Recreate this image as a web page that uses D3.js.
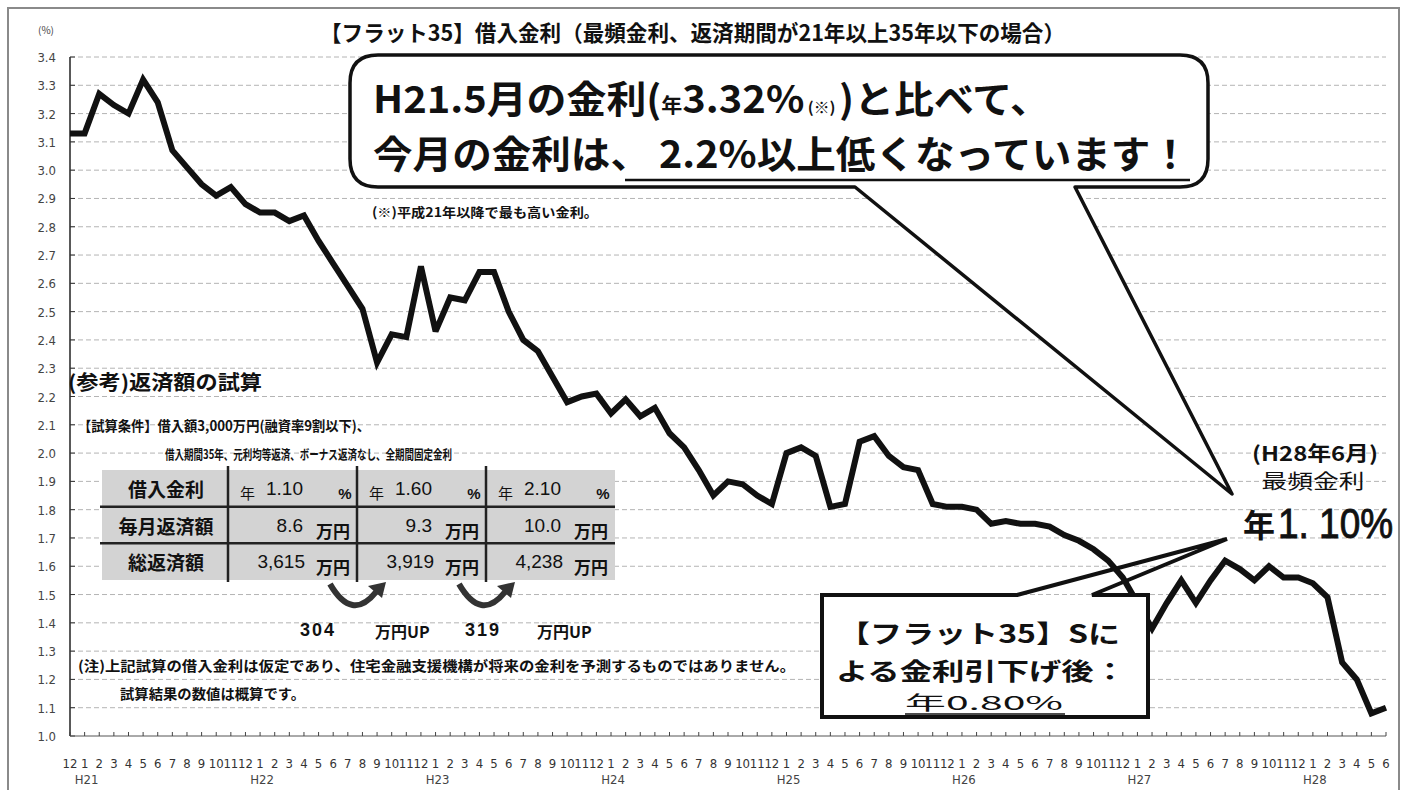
<!DOCTYPE html>
<html>
<head>
<meta charset="utf-8">
<script src="https://cdnjs.cloudflare.com/ajax/libs/d3/7.8.5/d3.min.js"></script>
<style>
body { margin:0; background:#fff; }
svg text { font-family:"Noto Sans CJK JP", sans-serif; fill:#111; }
</style>
</head>
<body>
<div class="canvas"></div>
<script>

// 最頻金利 (%), H20.12 - H28.6
var rates = [3.13,
  3.13,3.27,3.23,3.20,3.32,3.24,3.07,3.01,2.95,2.91,2.94,2.88,
  2.85,2.85,2.82,2.84,2.75,2.67,2.59,2.51,2.32,2.42,2.41,2.66,
  2.43,2.55,2.54,2.64,2.64,2.50,2.40,2.36,2.27,2.18,2.20,2.21,
  2.14,2.19,2.13,2.16,2.07,2.02,1.94,1.85,1.90,1.89,1.85,1.82,
  2.00,2.02,1.99,1.81,1.82,2.04,2.06,1.99,1.95,1.94,1.82,1.81,
  1.81,1.80,1.75,1.76,1.75,1.75,1.74,1.71,1.69,1.66,1.62,1.56,
  1.47,1.38,1.47,1.55,1.47,1.55,1.62,1.59,1.55,1.60,1.56,1.56,
  1.54,1.49,1.26,1.20,1.08,1.10];

var monthLabels = [12,
  1,2,3,4,5,6,7,8,9,10,11,12,
  1,2,3,4,5,6,7,8,9,10,11,12,
  1,2,3,4,5,6,7,8,9,10,11,12,
  1,2,3,4,5,6,7,8,9,10,11,12,
  1,2,3,4,5,6,7,8,9,10,11,12,
  1,2,3,4,5,6,7,8,9,10,11,12,
  1,2,3,4,5,6,7,8,9,10,11,12,
  1,2,3,4,5,6];

var yearLabels = ['H21','H22','H23','H24','H25','H26','H27','H28'];
var yearStart = [1,13,25,37,49,61,73,85];

var yTicks = [1.0,1.1,1.2,1.3,1.4,1.5,1.6,1.7,1.8,1.9,2.0,2.1,2.2,2.3,2.4,2.5,2.6,2.7,2.8,2.9,3.0,3.1,3.2,3.3,3.4];

var rowHeads = ['借入金利','毎月返済額','総返済額'];
var caseRates = ['1.10','1.60','2.10'];
var monthlyPay = ['8.6','9.3','10.0'];
var totalPay = ['3,615','3,919','4,238'];
var payDiff = ['304','319'];

var W = 1407, H = 790;
var narrow = '"Liberation Sans Narrow","DejaVu Sans Condensed",sans-serif';
var latin = '"Liberation Sans",Arial,sans-serif';

var svg = d3.select('.canvas').append('svg')
            .attr('width', W)
              .attr('height', H);

var x = d3.scaleLinear().domain([0, rates.length - 1]).range([70, 1386]);
var y = d3.scaleLinear().domain([1.0, 3.4]).range([736, 57]);

// outer frame
svg.append('rect')
  .attr('x', 8).attr('y', 8).attr('width', 1391).attr('height', 820)
  .attr('fill', 'none').attr('stroke', '#8a8a8a').attr('stroke-width', 2);

// grid
svg.append('g').selectAll('line')
  .data(yTicks.slice(1))
  .enter().append('line')
    .attr('x1', 70).attr('x2', 1386)
    .attr('y1', function(d){ return y(d); })
    .attr('y2', function(d){ return y(d); })
    .attr('stroke', '#b4b4b4')
    .attr('stroke-width', 1)
    .attr('stroke-dasharray', '5,3');

// y axis
svg.append('line')
  .attr('x1', 70).attr('x2', 70).attr('y1', y(3.4)).attr('y2', y(1.0))
  .attr('stroke', '#222').attr('stroke-width', 1.5);
svg.append('g').selectAll('line')
  .data(yTicks)
  .enter().append('line')
    .attr('x1', 70).attr('x2', 75)
    .attr('y1', function(d){ return y(d); })
    .attr('y2', function(d){ return y(d); })
    .attr('stroke', '#333');
svg.append('g').selectAll('text')
  .data(yTicks)
  .enter().append('text')
    .attr('x', 56)
    .attr('y', function(d){ return y(d) + 5; })
    .attr('text-anchor', 'end')
    .style('font-family', narrow)
    .style('font-size', '13px')
    .style('fill', '#444')
    .text(function(d){ return d3.format('.1f')(d); });
svg.append('text')
  .attr('x', 46).attr('y', 34)
  .attr('text-anchor', 'middle')
  .style('font-size', '10px')
  .style('fill', '#444')
  .text('(%)');

// x axis
svg.append('line')
  .attr('x1', 70).attr('x2', 1386).attr('y1', y(1.0)).attr('y2', y(1.0))
  .attr('stroke', '#555').attr('stroke-width', 1);
svg.append('g').selectAll('line')
  .data(monthLabels)
  .enter().append('line')
    .attr('x1', function(d, i){ return x(i); })
    .attr('x2', function(d, i){ return x(i); })
    .attr('y1', y(1.0)).attr('y2', y(1.0) - 4)
    .attr('stroke', '#444');
svg.append('g').selectAll('text')
  .data(monthLabels)
  .enter().append('text')
    .attr('x', function(d, i){ return x(i); })
    .attr('y', 768)
    .attr('text-anchor', 'middle')
    .style('font-family', narrow)
    .style('font-size', '13px')
    .style('fill', '#333')
    .text(function(d){ return d; });
svg.append('g').selectAll('text')
  .data(yearLabels)
  .enter().append('text')
    .attr('x', function(d, i){ return x(yearStart[i]) + 2; })
    .attr('y', 784)
    .attr('text-anchor', 'middle')
    .style('font-family', narrow)
    .style('font-size', '13px')
    .style('fill', '#444')
    .text(function(d){ return d; });

// rate line
var line = d3.line()
  .x(function(d, i){ return x(i); })
  .y(function(d){ return y(d); });
svg.append('path')
  .datum(rates)
  .attr('d', line)
  .attr('fill', 'none')
  .attr('stroke', '#111')
  .attr('stroke-width', 6)
  .attr('stroke-linejoin', 'miter')
  .attr('stroke-miterlimit', 3);

// title
svg.append('text')
  .attr('x', 320).attr('y', 41)
  .attr('textLength', 745).attr('lengthAdjust', 'spacingAndGlyphs')
  .style('font-size', '22px').style('font-weight', 'bold')
  .text('【フラット35】借入金利（最頻金利、返済期間が21年以上35年以下の場合）');

// big callout with tail
var bx0 = 350, by0 = 55, bx1 = 1208, by1 = 187, r = 28;
var tip1 = [1232, 494];
var bigPath = d3.path();
bigPath.moveTo(bx0 + r, by0);
bigPath.lineTo(bx1 - r, by0);
bigPath.quadraticCurveTo(bx1, by0, bx1, by0 + r);
bigPath.lineTo(bx1, by1 - r);
bigPath.quadraticCurveTo(bx1, by1, bx1 - r, by1);
bigPath.lineTo(1075, by1);
bigPath.lineTo(tip1[0], tip1[1]);
bigPath.lineTo(855, by1);
bigPath.lineTo(bx0 + r, by1);
bigPath.quadraticCurveTo(bx0, by1, bx0, by1 - r);
bigPath.lineTo(bx0, by0 + r);
bigPath.quadraticCurveTo(bx0, by0, bx0 + r, by0);
bigPath.closePath();
svg.append('path')
  .attr('d', bigPath.toString())
  .attr('fill', '#fff')
  .attr('stroke', '#111')
  .attr('stroke-width', 3.5)
  .attr('stroke-linejoin', 'round');

var l1 = svg.append('text')
  .attr('x', 373).attr('y', 113)
  .attr('textLength', 677).attr('lengthAdjust', 'spacingAndGlyphs')
  .style('font-size', '38px').style('font-weight', 'bold');
l1.append('tspan').text('H21.5月の金利(');
l1.append('tspan').style('font-size', '20px').text('年');
l1.append('tspan').text('3.32%');
l1.append('tspan').style('font-size', '15px').text(' (※) ');
l1.append('tspan').text(')と比べて、');

var l2 = svg.append('text')
  .attr('x', 373).attr('y', 168)
  .attr('textLength', 817).attr('lengthAdjust', 'spacingAndGlyphs')
  .style('font-size', '38px').style('font-weight', 'bold');
l2.append('tspan').text('今月の金利は、 ');
l2.append('tspan').text('2.2%以上低くなっています！');
svg.append('line')
  .attr('x1', 625).attr('x2', 1190).attr('y1', 180).attr('y2', 180)
  .attr('stroke', '#111').attr('stroke-width', 2.5);

svg.append('text')
  .attr('x', 372).attr('y', 217)
  .attr('textLength', 226).attr('lengthAdjust', 'spacingAndGlyphs')
  .style('font-size', '13px').style('font-weight', 'bold')
  .text('(※)平成21年以降で最も高い金利。');

// current rate label
svg.append('text')
  .attr('x', 1315).attr('y', 461)
  .attr('text-anchor', 'middle')
  .attr('textLength', 126).attr('lengthAdjust', 'spacingAndGlyphs')
  .style('font-size', '20px').style('font-weight', 'bold')
  .text('(H28年6月)');
svg.append('text')
  .attr('x', 1313).attr('y', 489)
  .attr('text-anchor', 'middle')
  .attr('textLength', 103).attr('lengthAdjust', 'spacingAndGlyphs')
  .style('font-size', '20px')
  .text('最頻金利');
svg.append('text')
  .attr('x', 1243).attr('y', 537)
  .style('font-size', '32px').style('font-weight', 'bold')
  .text('年');
svg.append('text')
  .attr('transform', 'translate(1278,538) scale(0.86,1)')
  .style('font-family', latin)
  .style('font-size', '43px')
  .style('stroke', '#111').style('stroke-width', 0.9)
  .text('1. 10%');

// lower box
var tip2 = [1227, 539];
svg.append('rect')
  .attr('x', 822).attr('y', 595).attr('width', 326).attr('height', 122)
  .attr('fill', '#fff');
var boxPath = d3.path();
boxPath.moveTo(1017, 595);
boxPath.lineTo(tip2[0], tip2[1]);
boxPath.lineTo(1092, 595);
boxPath.lineTo(1148, 595);
boxPath.lineTo(1148, 717);
boxPath.lineTo(822, 717);
boxPath.lineTo(822, 595);
boxPath.closePath();
svg.append('path')
  .attr('d', boxPath.toString())
  .attr('fill', 'none')
  .attr('stroke', '#111')
  .attr('stroke-width', 4)
  .attr('stroke-linejoin', 'miter');
svg.append('text')
  .attr('x', 838).attr('y', 643)
  .attr('textLength', 282).attr('lengthAdjust', 'spacingAndGlyphs')
  .style('font-size', '25px').style('font-weight', 'bold')
  .text('【フラット35】Sに');
svg.append('text')
  .attr('x', 836).attr('y', 680)
  .attr('textLength', 290).attr('lengthAdjust', 'spacingAndGlyphs')
  .style('font-size', '24px').style('font-weight', 'bold')
  .text('よる金利引下げ後：');
svg.append('text')
  .attr('x', 905).attr('y', 710)
  .attr('textLength', 158).attr('lengthAdjust', 'spacingAndGlyphs')
  .style('font-size', '19px')
  .text('年0.80%');
svg.append('line')
  .attr('x1', 905).attr('x2', 1065).attr('y1', 714).attr('y2', 714)
  .attr('stroke', '#111').attr('stroke-width', 1.5);

// reference calculation
svg.append('text')
  .attr('x', 68).attr('y', 390)
  .attr('textLength', 194).attr('lengthAdjust', 'spacingAndGlyphs')
  .style('font-size', '20px').style('font-weight', 'bold')
  .text('(参考)返済額の試算');
svg.append('text')
  .attr('x', 78).attr('y', 431)
  .attr('textLength', 292).attr('lengthAdjust', 'spacingAndGlyphs')
  .style('font-size', '14px').style('font-weight', 'bold')
  .text('【試算条件】借入額3,000万円(融資率9割以下)、');
svg.append('text')
  .attr('x', 165).attr('y', 459)
  .attr('textLength', 287).attr('lengthAdjust', 'spacingAndGlyphs')
  .style('font-size', '13px').style('font-weight', 'bold')
  .text('借入期間35年、元利均等返済、ボーナス返済なし、全期間固定金利');

var col = d3.scaleBand().domain([0, 1, 2]).range([228, 615]);
var row = d3.scaleBand().domain(rowHeads).range([470, 580]);

var table = svg.append('g');
table.append('rect')
  .attr('x', 102).attr('y', 470).attr('width', 513).attr('height', 110)
  .attr('fill', '#d3d3d3');
table.selectAll('.rowline')
  .data(rowHeads.slice(1))
  .enter().append('line')
    .attr('x1', 100).attr('x2', 615)
    .attr('y1', function(d){ return row(d); })
    .attr('y2', function(d){ return row(d); })
    .attr('stroke', '#222').attr('stroke-width', 2.5);
table.selectAll('.colline')
  .data(caseRates)
  .enter().append('line')
    .attr('x1', function(d, i){ return col(i); })
    .attr('x2', function(d, i){ return col(i); })
    .attr('y1', 466).attr('y2', 582)
    .attr('stroke', '#222').attr('stroke-width', 2.5);
table.selectAll('.head')
  .data(rowHeads)
  .enter().append('text')
    .attr('x', 166)
    .attr('y', function(d){ return row(d) + 27; })
    .attr('text-anchor', 'middle')
    .style('font-size', '19px').style('font-weight', 'bold')
    .text(function(d){ return d; });

var r0 = row(rowHeads[0]), r1 = row(rowHeads[1]), r2 = row(rowHeads[2]);
caseRates.forEach(function(v, i){
  var c = col(i);
  table.append('text').attr('x', c + 12).attr('y', r0 + 29)
    .style('font-size', '15px').text('年');
  table.append('text').attr('x', c + 75).attr('y', r0 + 25).attr('text-anchor', 'end')
    .style('font-family', latin).style('font-size', '19px').text(v);
  table.append('text').attr('x', c + 117).attr('y', r0 + 29).attr('text-anchor', 'middle')
    .style('font-family', latin).style('font-size', '15px').style('font-weight', 'bold').text('%');
});
monthlyPay.forEach(function(v, i){
  var c = col(i);
  table.append('text').attr('x', c + 75).attr('y', r1 + 25).attr('text-anchor', 'end')
    .style('font-family', latin).style('font-size', '19px').text(v);
  table.append('text').attr('x', c + 88).attr('y', r1 + 31)
    .style('font-size', '17px').style('font-weight', 'bold').text('万円');
});
totalPay.forEach(function(v, i){
  var c = col(i);
  table.append('text').attr('x', c + 77).attr('y', r2 + 25).attr('text-anchor', 'end')
    .style('font-family', latin).style('font-size', '19px').text(v);
  table.append('text').attr('x', c + 88).attr('y', r2 + 31)
    .style('font-size', '17px').style('font-weight', 'bold').text('万円');
});

// curved arrows and differences
var diffNumX = [300, 465], diffUnitX = [375, 537];
payDiff.forEach(function(v, i){
  var cx = col(i + 1) - 3;
  var p = d3.path();
  p.moveTo(cx - 24, 584);
  p.quadraticCurveTo(cx - 2, 622, cx + 22, 592);
  svg.append('path')
    .attr('d', p.toString())
    .attr('fill', 'none')
    .attr('stroke', '#333')
    .attr('stroke-width', 6);
  svg.append('path')
    .attr('d', 'M' + (cx + 32) + ',582 L' + (cx + 14) + ',586 L' + (cx + 28) + ',598 Z')
    .attr('fill', '#333');
  svg.append('text')
    .attr('x', diffNumX[i]).attr('y', 636)
    .style('font-family', latin)
    .style('font-size', '18px').style('font-weight', 'bold')
    .attr('letter-spacing', '2px')
    .text(v);
  svg.append('text')
    .attr('x', diffUnitX[i]).attr('y', 638)
    .style('font-size', '16px').style('font-weight', 'bold')
    .text('万円UP');
});

svg.append('text')
  .attr('x', 78).attr('y', 671)
  .attr('textLength', 717).attr('lengthAdjust', 'spacingAndGlyphs')
  .style('font-size', '14px').style('font-weight', 'bold')
  .text('(注)上記試算の借入金利は仮定であり、住宅金融支援機構が将来の金利を予測するものではありません。');
svg.append('text')
  .attr('x', 120).attr('y', 699)
  .attr('textLength', 185).attr('lengthAdjust', 'spacingAndGlyphs')
  .style('font-size', '14px').style('font-weight', 'bold')
  .text('試算結果の数値は概算です。');

</script>
</body>
</html>
